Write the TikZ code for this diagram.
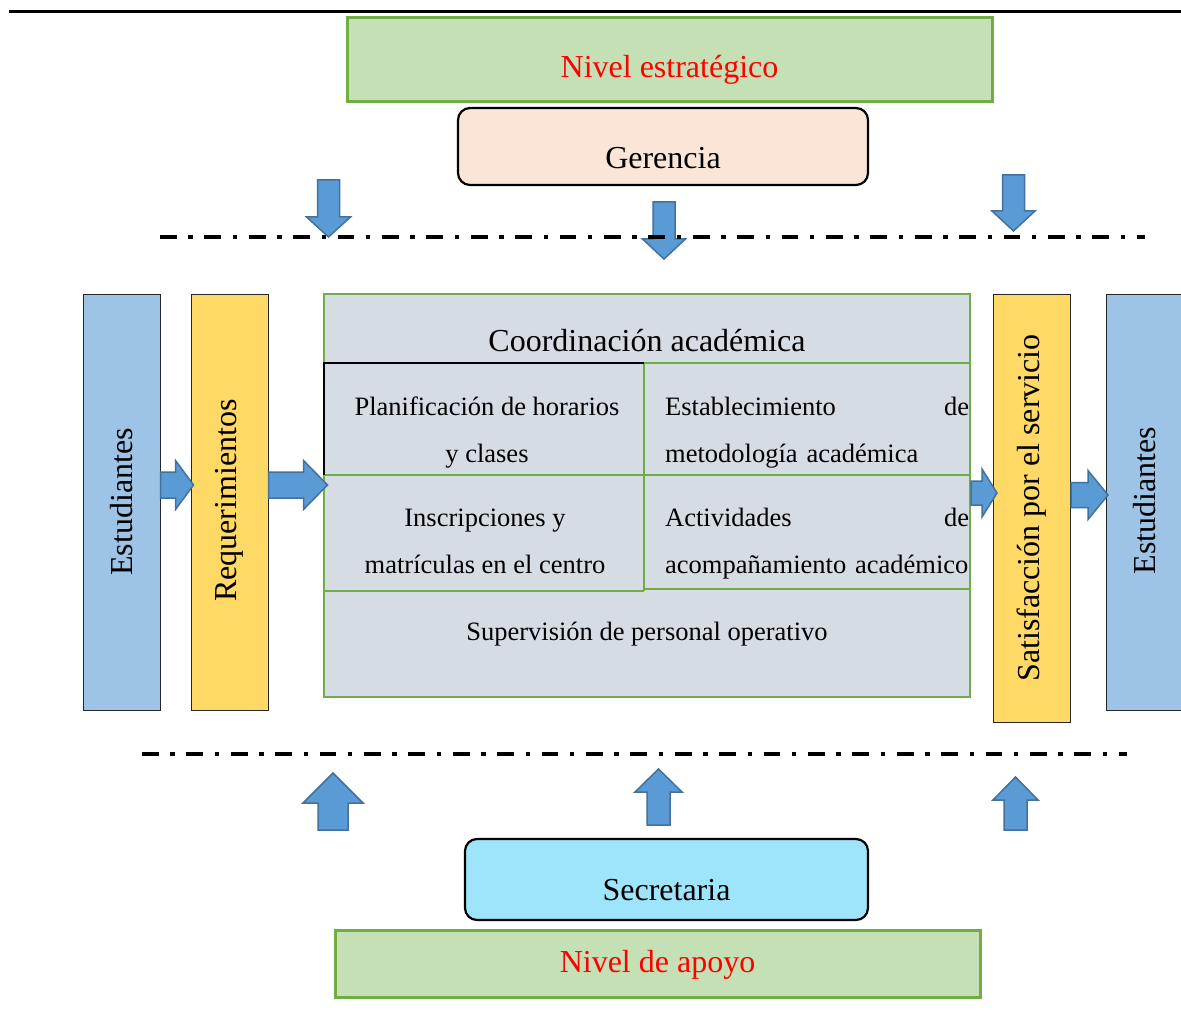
\documentclass[tikz,border=0pt]{standalone}
\usepackage{fontspec}
\setmainfont{Liberation Serif}
\usetikzlibrary{positioning, calc}
\definecolor{stratgreen}{RGB}{197,224,180}
\definecolor{stratedge}{RGB}{112,173,71}
\definecolor{gerfill}{RGB}{251,229,214}
\definecolor{secfill}{RGB}{158,229,252}
\definecolor{studblue}{RGB}{157,195,230}
\definecolor{reqyellow}{RGB}{255,217,102}
\definecolor{panelgray}{RGB}{214,220,228}
\definecolor{arrowblue}{RGB}{91,155,213}
\definecolor{arrowedge}{RGB}{65,113,156}

% tail, angle, length, shaft half width, head half width, head length
\newcommand{\blockarrow}[6]{%
  \begin{scope}[shift={#1}, rotate=#2]
    \draw[arrowblk] (0,#4) -- ({#3-#6},#4) -- ({#3-#6},#5) -- (#3,0) -- ({#3-#6},-#5) -- ({#3-#6},-#4) -- (0,-#4) -- cycle;
  \end{scope}}

\begin{document}
\begin{tikzpicture}[x=1pt, y=-1pt,
  bigtext/.style={font=\fontsize{32}{38}\selectfont},
  celltext/.style={font=\fontsize{26.5}{47}\selectfont, inner sep=0pt},
  levelbox/.style={draw=stratedge, line width=3pt, fill=stratgreen},
  unitbox/.style={draw=black, line width=2.2pt, rounded corners=12pt},
  sidebar/.style={draw=black!85, line width=1pt, minimum width=77pt},
  arrowblk/.style={draw=arrowedge, line width=1.5pt, fill=arrowblue},
  divider/.style={line width=4pt, dash pattern=on 16.7pt off 11.7pt on 4.3pt off 11.7pt},
  cellline/.style={draw=stratedge, line width=2pt}]
  \useasboundingbox (0,0) rectangle (1181,1019);

  \draw[line width=3pt] (9,12) -- (1181,12);

  \node[levelbox, minimum width=645pt, minimum height=84pt, label={[bigtext, text=red, yshift=-9.5pt]center:Nivel estratégico}] (strat) at (669.5,60) {};
  \node[unitbox, fill=gerfill, minimum width=410pt, minimum height=77pt, label={[bigtext, yshift=-11.5pt]center:Gerencia}] (ger) at (663,146.5) {};
  \node[unitbox, fill=secfill, minimum width=403pt, minimum height=81pt, label={[bigtext, yshift=-10.5pt]center:Secretaria}] (sec) at (666.5,879.5) {};
  \node[levelbox, minimum width=645pt, minimum height=67pt, label={[bigtext, text=red, yshift=-1pt]center:Nivel de apoyo}] (apoyo) at (657.5,963.5) {};

  \node[sidebar, fill=studblue, minimum height=416pt, label={[bigtext, rotate=90]center:Estudiantes}] (estl) at (121.5,502) {};
  \node[sidebar, fill=reqyellow, minimum height=416pt, label={[bigtext, rotate=90, xshift=1.5pt]center:Requerimientos}] (req) at (229.5,502) {};
  \node[sidebar, fill=reqyellow, minimum height=428pt, label={[bigtext, rotate=90]center:Satisfacción por el servicio}] (sat) at (1032,508) {};
  \node[sidebar, fill=studblue, minimum height=416pt, label={[bigtext, rotate=90, xshift=1.5pt]center:Estudiantes}] (estr) at (1144.5,502) {};

  \node[draw=stratedge, line width=2pt, fill=panelgray, minimum width=646pt, minimum height=403pt] (panel) at (647,495.5) {};
  \draw[cellline] (panel.west |- 0,363) -- (panel.east |- 0,363);
  \draw[cellline] (panel.west |- 0,475) -- (panel.east |- 0,475);
  \draw[cellline] (panel.west |- 0,591) -- (644,591);
  \draw[cellline] (644,589) -- (panel.east |- 0,589);
  \draw[cellline] (644,363) -- (644,591);
  \draw[line width=2pt] (324,475) -- (324,363) -- (644,363);

  \node[bigtext] (coordtitle) at (647,341) {Coordinación académica};
  \node[celltext, align=center] (plan) at (487,433) {Planificación de horarios\\y clases};
  \node[celltext, align=left, text width=304pt, anchor=west] (metod) at (665,433) {Establecimiento\hfill de\\metodología académica};
  \node[celltext, align=center] (inscr) at (485,541.5) {Inscripciones y\\matrículas en el centro};
  \node[celltext, align=left, text width=304pt, anchor=west] (acomp) at (665,544) {Actividades\hfill de\\\mbox{acompañamiento académico}};
  \node[celltext] (superv) at (647,634) {Supervisión de personal operativo};

  \blockarrow{(estl.east |- 0,485)}{0}{33}{13}{24.5}{18}
  \blockarrow{(req.east |- 0,485)}{0}{59}{13}{24.5}{24}
  \blockarrow{(panel.east |- 0,493)}{0}{26}{12}{24}{15}
  \blockarrow{(sat.east |- 0,495)}{0}{37}{12.5}{24.5}{20}

  \blockarrow{(328.5,180)}{-90}{57}{11}{22}{20}
  \blockarrow{(664,202)}{-90}{57}{11}{21.5}{20}
  \blockarrow{(1013.5,175)}{-90}{56}{11}{21.5}{20}
  \blockarrow{(333,830)}{90}{57}{15}{30}{30}
  \blockarrow{(658.5,825)}{90}{56}{11.5}{23.5}{23}
  \blockarrow{(1015.5,830)}{90}{53}{11.5}{22.5}{23}

  \draw[divider] (160,237) -- (1145,237);
  \draw[divider] (142,754) -- (1127,754);
\end{tikzpicture}
\end{document}
